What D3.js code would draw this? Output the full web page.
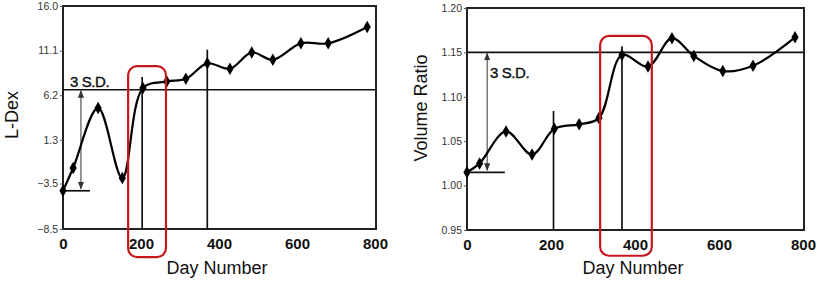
<!DOCTYPE html>
<html>
<head>
<meta charset="utf-8">
<script src="https://cdn.jsdelivr.net/npm/d3@7"></script>
<style>
  body { margin: 0; background: #fff; }
  text { font-family: Arial, "Liberation Sans", sans-serif; }
</style>
</head>
<body>
<div id="chart"></div>
<script>
const width = 824;
const height = 282;

// left panel: L-Dex
const ldexDays = [0, 26, 90, 152, 205, 266, 315, 370, 428, 484, 538, 610, 680, 780];
const ldexValues = [-4.3, -1.8, 4.8, -2.9, 7.0, 7.7, 8.0, 9.7, 9.1, 10.9, 10.1, 11.9, 11.9, 13.7];
const ldexTicks = [-8.5, -3.5, 1.3, 6.2, 11.1, 16.0];
const ldexThreshold = 6.8;
const ldexMarkers = [[203, 8.2], [370, 11.2]];      // [day, top value]
const ldexSD = { day: 46, base: -4.3, baseEnd: 69 };
const ldexBox = { days: [167, 264], values: [-11.6, 9.4] };

// right panel: volume ratio
const volDays = [0, 30, 93, 155, 208, 267, 314, 369, 431, 488, 540, 609, 681, 781];
const volValues = [1.015, 1.025, 1.061, 1.035, 1.064, 1.069, 1.076, 1.147, 1.134, 1.166, 1.146, 1.129, 1.135, 1.167];
const volTicks = [0.95, 1.00, 1.05, 1.10, 1.15, 1.20];
const volThreshold = 1.15;
const volMarkers = [[206, 1.084], [369, 1.157]];
const volSD = { day: 48, base: 1.015, baseEnd: 90 };
const volBox = { days: [317, 440], values: [0.921, 1.1685] };

const dayTicks = [0, 200, 400, 600, 800];

const svg = d3.select('#chart')
  .append('svg')
    .attr('width', width)
    .attr('height', height);

const defs = svg.append('defs');
defs.append('marker')
    .attr('id', 'arrow')
    .attr('viewBox', '0 0 10 10')
    .attr('refX', 9)
    .attr('refY', 5)
    .attr('markerWidth', 7)
    .attr('markerHeight', 7)
    .attr('orient', 'auto-start-reverse')
  .append('path')
    .attr('d', 'M0,1 L10,5 L0,9 Z')
    .attr('fill', '#333');

drawPanel({
  left: 63, right: 375, top: 6, bottom: 229,
  yDomain: [-8.5, 16], ticks: ldexTicks, fmt: d3.format('.1f'),
  days: ldexDays, values: ldexValues,
  threshold: ldexThreshold, markers: ldexMarkers, sd: ldexSD, box: ldexBox,
  label: 'L-Dex', labelX: 12, labelY: 115, sdText: [70, 87]
});

drawPanel({
  left: 467, right: 803, top: 8, bottom: 230,
  yDomain: [0.95, 1.20], ticks: volTicks, fmt: d3.format('.2f'),
  days: volDays, values: volValues,
  threshold: volThreshold, markers: volMarkers, sd: volSD, box: volBox,
  label: 'Volume Ratio', labelX: 421, labelY: 108, sdText: [490, 78]
});

function drawPanel(p) {
  const x = d3.scaleLinear().domain([0, 800]).range([p.left, p.right]);
  const y = d3.scaleLinear().domain(p.yDomain).range([p.bottom, p.top]);
  const g = svg.append('g');

  // frame
  g.append('rect')
    .attr('x', p.left)
    .attr('y', p.top)
    .attr('width', p.right - p.left + 1)
    .attr('height', p.bottom - p.top)
    .attr('fill', 'none')
    .attr('stroke', '#222')
    .attr('stroke-width', 2);

  // y axis
  const yAxis = g.append('g')
    .attr('transform', `translate(${p.left}, 0)`)
    .call(d3.axisLeft(y).tickValues(p.ticks).tickFormat(p.fmt).tickSize(3).tickPadding(2));
  yAxis.select('.domain').remove();
  yAxis.selectAll('line').attr('stroke', '#555');
  yAxis.selectAll('text')
    .attr('font-size', 10.5)
    .attr('fill', '#333')
    .attr('font-family', 'Arial, "Liberation Sans", sans-serif');

  // x axis
  const xAxis = g.append('g')
    .attr('transform', `translate(0, ${p.bottom})`)
    .call(d3.axisBottom(x).tickValues(dayTicks).tickSize(0).tickPadding(9));
  xAxis.select('.domain').remove();
  xAxis.selectAll('text')
    .attr('font-size', 15)
    .attr('font-weight', 'bold')
    .attr('fill', '#111')
    .attr('font-family', 'Arial, "Liberation Sans", sans-serif');

  g.append('text')
    .attr('x', (p.left + p.right) / 2 - 2)
    .attr('y', 274)
    .attr('text-anchor', 'middle')
    .attr('font-size', 18)
    .attr('fill', '#111')
    .text('Day Number');

  g.append('text')
    .attr('transform', `translate(${p.labelX + 6}, ${p.labelY}) rotate(-90)`)
    .attr('text-anchor', 'middle')
    .attr('font-size', 18)
    .attr('fill', '#111')
    .text(p.label);

  // threshold
  g.append('line')
    .attr('x1', p.left).attr('x2', p.right)
    .attr('y1', y(p.threshold)).attr('y2', y(p.threshold))
    .attr('stroke', '#111')
    .attr('stroke-width', 1.7);

  // vertical event lines
  g.selectAll('.vline')
    .data(p.markers)
    .join('line')
      .attr('x1', d => x(d[0])).attr('x2', d => x(d[0]))
      .attr('y1', d => y(d[1])).attr('y2', p.bottom)
      .attr('stroke', '#111')
      .attr('stroke-width', 1.7);

  // 3 S.D. arrow
  g.append('line')
    .attr('x1', x(p.sd.day)).attr('x2', x(p.sd.day))
    .attr('y1', y(p.threshold) + 1).attr('y2', y(p.sd.base) - 2)
    .attr('stroke', '#444')
    .attr('stroke-width', 1.1)
    .attr('marker-start', 'url(#arrow)')
    .attr('marker-end', 'url(#arrow)');

  g.append('line')
    .attr('x1', x(0)).attr('x2', x(p.sd.baseEnd))
    .attr('y1', y(p.sd.base)).attr('y2', y(p.sd.base))
    .attr('stroke', '#111')
    .attr('stroke-width', 1.7);

  g.append('text')
    .attr('x', p.sdText[0])
    .attr('y', p.sdText[1])
    .attr('font-size', 15)
    .attr('fill', '#111')
    .attr('stroke', '#111')
    .attr('stroke-width', 0.4)
    .attr('letter-spacing', -0.4)
    .text('3 S.D.');

  // data line
  const pts = p.days.map((d, i) => [d, p.values[i]]);
  const line = d3.line()
    .x(d => x(d[0]))
    .y(d => y(d[1]))
    .curve(d3.curveCatmullRom.alpha(0.5));

  g.append('path')
    .datum(pts)
    .attr('d', line)
    .attr('fill', 'none')
    .attr('stroke', '#000')
    .attr('stroke-width', 2.2);

  g.selectAll('.pt')
    .data(pts)
    .join('path')
      .attr('transform', d => `translate(${x(d[0])}, ${y(d[1])})`)
      .attr('d', d3.symbol(d3.symbolDiamond, 45))
      .attr('fill', '#000');

  // red highlight box
  g.append('rect')
    .attr('x', x(p.box.days[0]))
    .attr('y', y(p.box.values[1]))
    .attr('width', x(p.box.days[1]) - x(p.box.days[0]))
    .attr('height', y(p.box.values[0]) - y(p.box.values[1]))
    .attr('rx', 9)
    .attr('fill', 'none')
    .attr('stroke', '#c8161d')
    .attr('stroke-width', 2.2);
}
</script>
</body>
</html>
